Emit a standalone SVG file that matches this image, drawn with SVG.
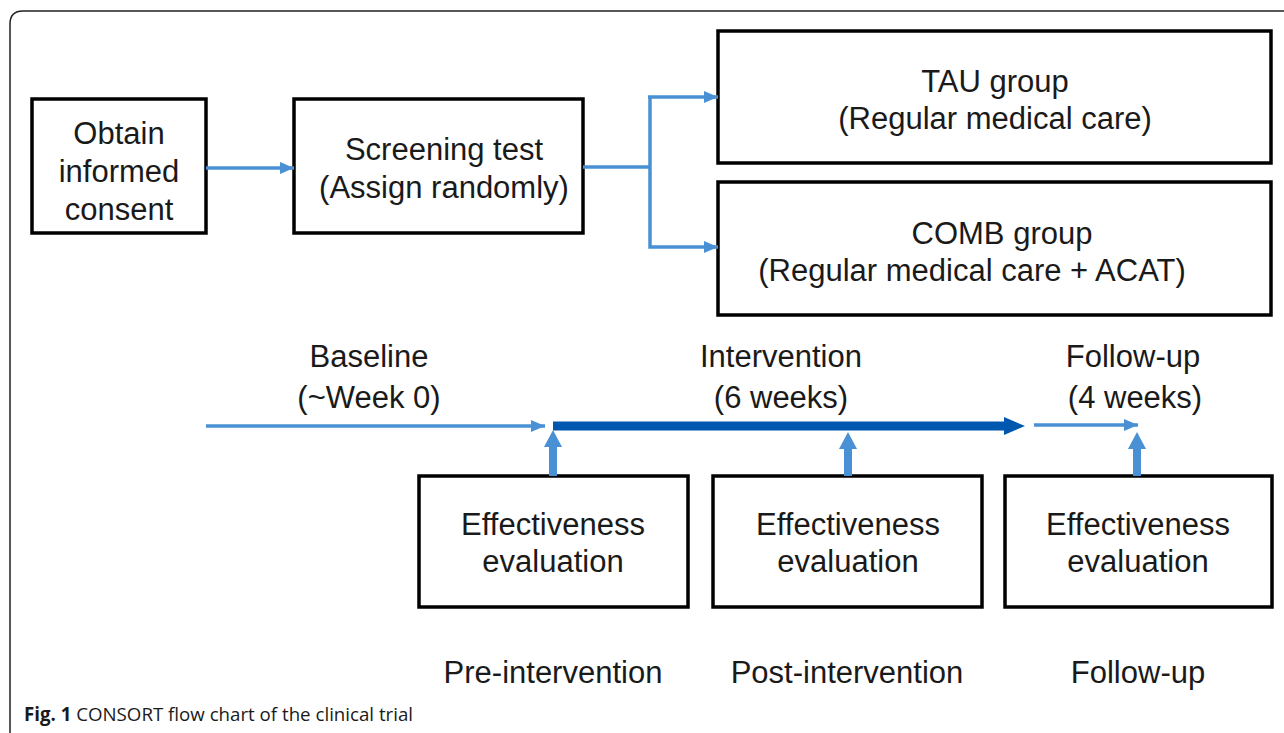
<svg xmlns="http://www.w3.org/2000/svg" width="1284" height="733" viewBox="0 0 1284 733">
<defs>
<style>
.box{fill:#fff;stroke:#000;stroke-width:3.5}
.t{font-family:"Liberation Sans",Arial,sans-serif;font-size:31px;fill:#1a1a1a;text-anchor:middle}
.ln{stroke:#4a90d4;stroke-width:3.5;fill:none}
.up{stroke:#4a90d4;stroke-width:8;fill:none}
.thick{stroke:#0057b0;stroke-width:9;fill:none}
.cap{font-family:"Open Sans","Liberation Sans",sans-serif;font-size:18.7px;fill:#1a1a1a}
</style>
<marker id="ah" markerWidth="14" markerHeight="12" refX="14" refY="6" orient="auto" markerUnits="userSpaceOnUse" viewBox="0 0 14 12">
<path d="M0,0 L14,6 L0,12 z" fill="#4a90d4"/>
</marker>
</defs>
<rect width="1284" height="733" fill="#fff"/>
<path d="M10,733 L10,24 Q10,11 23,11 L1284,11" fill="none" stroke="#222" stroke-width="1.5"/>

<g id="obtain">
<rect class="box" x="32" y="99" width="174" height="134"/>
<text class="t" x="119" y="144">Obtain</text>
<text class="t" x="119" y="182">informed</text>
<text class="t" x="119" y="220">consent</text>
</g>
<g id="screening">
<rect class="box" x="294" y="99" width="289" height="134"/>
<text class="t" x="444" y="160">Screening test</text>
<text class="t" x="444" y="198">(Assign randomly)</text>
</g>
<g id="tau">
<rect class="box" x="718" y="31" width="553" height="132"/>
<text class="t" x="995" y="92">TAU group</text>
<text class="t" x="995" y="129">(Regular medical care)</text>
</g>
<g id="comb">
<rect class="box" x="718" y="182" width="553" height="133"/>
<text class="t" x="1002" y="244">COMB group</text>
<text class="t" x="972" y="281">(Regular medical care + ACAT)</text>
</g>
<g id="eval1">
<rect class="box" x="419" y="476" width="269" height="131"/>
<text class="t" x="553" y="535">Effectiveness</text>
<text class="t" x="553" y="572">evaluation</text>
</g>
<g id="eval2">
<rect class="box" x="713" y="476" width="269" height="131"/>
<text class="t" x="848" y="535">Effectiveness</text>
<text class="t" x="848" y="572">evaluation</text>
</g>
<g id="eval3">
<rect class="box" x="1005" y="476" width="267" height="131"/>
<text class="t" x="1138" y="535">Effectiveness</text>
<text class="t" x="1138" y="572">evaluation</text>
</g>

<g id="labels">
<text class="t" x="369" y="367">Baseline</text>
<text class="t" x="369" y="408">(~Week 0)</text>
<text class="t" x="781" y="367">Intervention</text>
<text class="t" x="781" y="408">(6 weeks)</text>
<text class="t" x="1133" y="367">Follow-up</text>
<text class="t" x="1135" y="408">(4 weeks)</text>
<text class="t" x="553" y="683">Pre-intervention</text>
<text class="t" x="847" y="683">Post-intervention</text>
<text class="t" x="1138" y="683">Follow-up</text>
</g>

<g id="connectors">
<line class="ln" x1="206" y1="168" x2="294" y2="168" marker-end="url(#ah)"/>
<polyline class="ln" points="583,167 650,167"/>
<polyline class="ln" points="650,97 650,247 718,247" marker-end="url(#ah)"/>
<line class="ln" x1="648" y1="97" x2="718" y2="97" marker-end="url(#ah)"/>
<line class="ln" x1="206" y1="426" x2="545" y2="426" marker-end="url(#ah)"/>
<line class="thick" x1="553" y1="426" x2="1008" y2="426"/>
<path d="M1004,417 L1025,426 L1004,435 z" fill="#0057b0"/>
<line class="ln" x1="1034" y1="425" x2="1138" y2="425" marker-end="url(#ah)"/>
<line class="up" x1="553" y1="476" x2="553" y2="446"/>
<path d="M544,447 L553,430 L562,447 z" fill="#4a90d4"/>
<line class="up" x1="848" y1="476" x2="848" y2="448"/>
<path d="M839,449 L848,432 L857,449 z" fill="#4a90d4"/>
<line class="up" x1="1137" y1="476" x2="1137" y2="448"/>
<path d="M1128,449 L1137,432 L1146,449 z" fill="#4a90d4"/>
</g>

<text class="cap" x="24" y="721"><tspan font-weight="bold">Fig. 1</tspan> CONSORT flow chart of the clinical trial</text>
</svg>
